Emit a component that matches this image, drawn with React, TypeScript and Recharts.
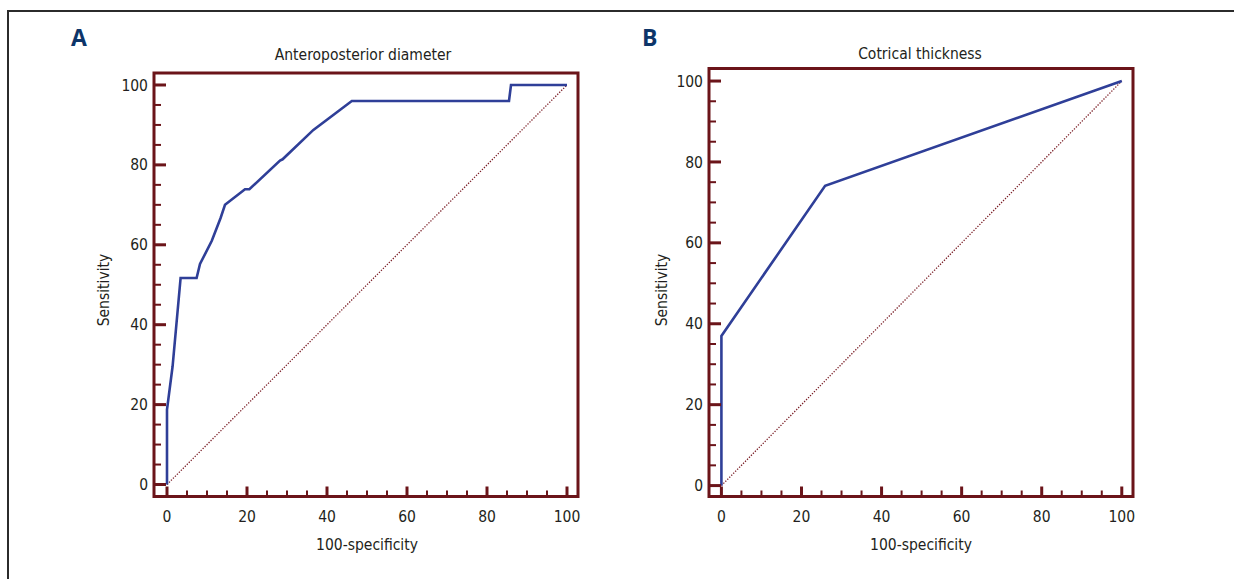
import React from "react";
import { LineChart, Line, XAxis, YAxis, ReferenceArea } from "recharts";

const rocAX = [0, 0, 1.4, 3.4, 7.4, 8.25, 11.2, 13.4, 14.5, 19.5, 20.6, 28.25, 28.9, 36.6, 46.2, 85.5, 86, 100];
const rocAY = [0, 18.75, 29.6, 51.7, 51.7, 55.2, 61, 66.7, 70, 73.9, 73.9, 81.1, 81.4, 88.75, 96, 96, 100, 100];
const rocBX = [0, 0, 25.9, 100];
const rocBY = [0, 37, 74.1, 100];
const diagX = [0, 100];
const diagY = [0, 100];
const tickValues = [0, 5, 10, 15, 20, 25, 30, 35, 40, 45, 50, 55, 60, 65, 70, 75, 80, 85, 90, 95, 100];
const majorTicks = [0, 20, 40, 60, 80, 100];
const titles = ["Anteroposterior diameter", "Cotrical thickness"];
const panelLetters = ["A", "B"];
const xTitle = "100-specificity";
const yTitle = "Sensitivity";

const toPoints = (xs: number[], ys: number[]) => xs.map((x, i) => ({ x, y: ys[i] }));

const MAROON = "#6b1419";
const BLUE = "#2f3f98";
const TEXT = "#231f20";
const FONT = "'Liberation Sans Narrow', 'DejaVu Sans Condensed', 'Roboto Condensed', 'Noto Sans', sans-serif";
const FS = 15.5;

type PanelProps = {
  left: number;
  top: number;
  xDomain: [number, number];
  yDomain: [number, number];
  roc: { x: number; y: number }[];
};

const CH_W = 617;
const CH_H = 579;
const PLOT_LEFT = 154;
const PLOT_RIGHT = 578;

function Panel({ left, top, xDomain, yDomain, roc }: PanelProps) {
  const plotBottom = 496.5;
  const marginBottom = CH_H - plotBottom - 30;
  const XTick = (p: any) => {
    const v = p.payload.value;
    const major = majorTicks.includes(v);
    const x = p.x;
    return (
      <g>
        <line x1={x} x2={x} y1={plotBottom} y2={plotBottom - (major ? 10 : 6)} stroke={MAROON} strokeWidth={major ? 3 : 2} />
        {major && (
          <text x={x} y={plotBottom + 25} textAnchor="middle" fontSize={FS} fontFamily={FONT} fill={TEXT}>
            {v}
          </text>
        )}
      </g>
    );
  };
  const YTick = (p: any) => {
    const v = p.payload.value;
    const major = majorTicks.includes(v);
    const y = p.y;
    return (
      <g>
        <line x1={PLOT_LEFT} x2={PLOT_LEFT + (major ? 12 : 7)} y1={y} y2={y} stroke={MAROON} strokeWidth={major ? 3 : 2} />
        {major && (
          <text x={PLOT_LEFT - 6} y={y} dy="0.36em" textAnchor="end" fontSize={FS} fontFamily={FONT} fill={TEXT}>
            {v}
          </text>
        )}
      </g>
    );
  };
  return (
    <div style={{ position: "absolute", left, top: 0 }}>
      <LineChart
        width={CH_W}
        height={CH_H}
        margin={{ top, right: CH_W - PLOT_RIGHT, bottom: marginBottom, left: PLOT_LEFT - 60 }}
      >
        <XAxis
          type="number"
          dataKey="x"
          domain={xDomain}
          ticks={tickValues}
          interval={0}
          height={30}
          axisLine={false}
          tickLine={false}
          tick={XTick}
          allowDataOverflow
        />
        <YAxis
          type="number"
          dataKey="y"
          domain={yDomain}
          ticks={tickValues}
          interval={0}
          width={60}
          axisLine={false}
          tickLine={false}
          tick={YTick}
          allowDataOverflow
        />
        <ReferenceArea
          x1={xDomain[0]}
          x2={xDomain[1]}
          y1={yDomain[0]}
          y2={yDomain[1]}
          stroke={MAROON}
          strokeWidth={3}
          fill="none"
          fillOpacity={0}
          ifOverflow="visible"
        />
        <Line
          data={toPoints(diagX, diagY)}
          dataKey="y"
          type="linear"
          stroke="#7a1e26"
          strokeWidth={1.3}
          strokeDasharray="1.3 1.5"
          dot={false}
          isAnimationActive={false}
        />
        <Line
          data={roc}
          dataKey="y"
          type="linear"
          stroke={BLUE}
          strokeWidth={2.6}
          dot={false}
          isAnimationActive={false}
        />
      </LineChart>
    </div>
  );
}

export default function App() {
  return (
    <div style={{ position: "absolute", left: 0, top: 0, width: 1234, height: 579, background: "#fff", overflow: "hidden" }}>
      <div
        style={{
          position: "absolute",
          left: 7,
          top: 10,
          width: 1240,
          height: 600,
          borderTop: "2px solid #2b2b2b",
          borderLeft: "2px solid #2b2b2b",
        }}
      />
      <Panel left={0} top={73} xDomain={[-3.25, 102.75]} yDomain={[-3, 103]} roc={toPoints(rocAX, rocAY)} />
      <Panel left={555} top={68.5} xDomain={[-3.1, 102.8]} yDomain={[-2.7, 103.1]} roc={toPoints(rocBX, rocBY)} />
      <svg width={1234} height={579} style={{ position: "absolute", left: 0, top: 0, pointerEvents: "none" }}>
        <text x={71} y={46} fontSize={23} fontWeight="bold" fontFamily="'Open Sans', 'Noto Sans', sans-serif" fill="#0d3569">
          {panelLetters[0]}
        </text>
        <text x={642} y={46} fontSize={23} fontWeight="bold" fontFamily="'Open Sans', 'Noto Sans', sans-serif" fill="#0d3569">
          {panelLetters[1]}
        </text>
        <text x={363} y={60} textAnchor="middle" fontSize={FS} fontFamily={FONT} fill={TEXT}>
          {titles[0]}
        </text>
        <text x={920} y={59} textAnchor="middle" fontSize={FS} fontFamily={FONT} fill={TEXT}>
          {titles[1]}
        </text>
        <text x={367} y={550} textAnchor="middle" fontSize={FS} fontFamily={FONT} fill={TEXT}>
          {xTitle}
        </text>
        <text x={921} y={550} textAnchor="middle" fontSize={FS} fontFamily={FONT} fill={TEXT}>
          {xTitle}
        </text>
        <text x={109} y={290} textAnchor="middle" fontSize={FS} fontFamily={FONT} fill={TEXT} transform="rotate(-90 109 290)">
          {yTitle}
        </text>
        <text x={667} y={290} textAnchor="middle" fontSize={FS} fontFamily={FONT} fill={TEXT} transform="rotate(-90 667 290)">
          {yTitle}
        </text>
      </svg>
    </div>
  );
}
